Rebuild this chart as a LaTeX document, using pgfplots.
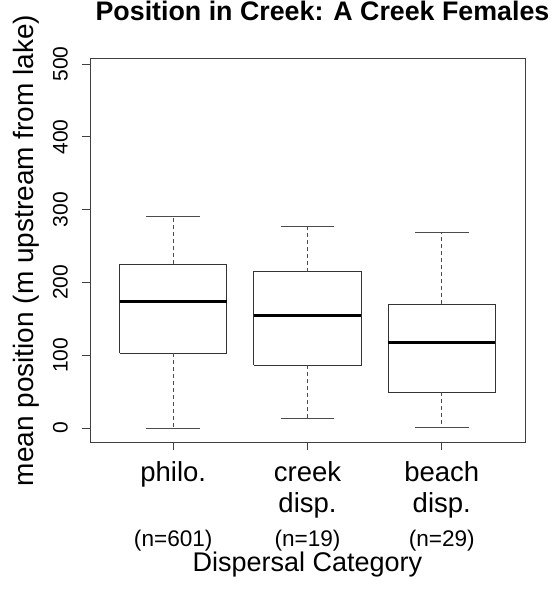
\documentclass[border=0pt]{standalone}
\usepackage{pgfplots}
\pgfplotsset{compat=1.18}
\usepackage{fontspec}
\setmainfont{Liberation Sans}

\begin{document}
\begin{tikzpicture}
\useasboundingbox (0pt,0pt) rectangle (552pt,-601pt);
\begin{axis}[
  at={(90pt,-442pt)}, anchor=south west,
  scale only axis, width=435pt, height=383pt,
  xmin=0.38, xmax=3.62,
  ymin=-19.2, ymax=507,
  unbounded coords=jump,
  axis line style={black!75, line width=1pt},
  tick style={black!75, line width=1pt},
  tick align=outside, major tick length=8pt,
  xtick pos=lower, ytick pos=left,
  /pgf/number format/assume math mode=true,
  ytick={0,100,200,300,400,500},
  yticklabel style={rotate=90, anchor=south, inner sep=0pt, yshift=14pt,
    font=\fontsize{21}{21}\selectfont},
  xtick={1,2,3},
  xticklabels={philo., creek\\disp., beach\\disp.},
  xticklabel style={anchor=north, inner sep=0pt, align=center, yshift=-11pt,
    font=\fontsize{27.5}{31}\selectfont},
  extra x ticks={1,2,3},
  extra x tick labels={(n=601),(n=19),(n=29)},
  extra x tick style={major tick style={draw=none},
    xticklabel style={yshift=-69pt, font=\fontsize{22.6}{22.6}\selectfont}},
  title={Position in Creek: A Creek Females},
  title style={font=\bfseries\fontsize{26.8}{26.8}\selectfont,
    at={(axis description cs:0.5345,1)}, anchor=base, yshift=32pt},
  xlabel={Dispersal Category},
  xlabel style={font=\fontsize{27}{27}\selectfont,
    at={(axis description cs:0.5,-0.3394)}, anchor=base},
  ylabel={mean position (m upstream from lake)},
  ylabel style={font=\fontsize{28}{28}\selectfont,
    at={(axis description cs:-0.131,0.5)}, anchor=base},
]

% boxes: lower quartile to upper quartile, width 0.8
\addplot[black!80, line width=1pt] coordinates {
  (0.6,103) (1.4,103) (1.4,225) (0.6,225) (0.6,103)};
\addplot[black!80, line width=1pt] coordinates {
  (1.6,86.5) (2.4,86.5) (2.4,215) (1.6,215) (1.6,86.5)};
\addplot[black!80, line width=1pt] coordinates {
  (2.6,49) (3.4,49) (3.4,170) (2.6,170) (2.6,49)};

% medians
\addplot[black, line width=3pt] coordinates {
  (0.6,174.5) (1.4,174.5) (nan,nan)
  (1.6,155) (2.4,155) (nan,nan)
  (2.6,117) (3.4,117)};

% whiskers (dashed)
\addplot[black!70, line width=1pt, dash pattern=on 4pt off 3pt] coordinates {
  (1,225) (1,290) (nan,nan) (1,103) (1,0) (nan,nan)
  (2,215) (2,276.5) (nan,nan) (2,86.5) (2,13) (nan,nan)
  (3,170) (3,268) (nan,nan) (3,49) (3,0.5)};

% whisker caps
\addplot[black!70, line width=1pt] coordinates {
  (0.8,290) (1.2,290) (nan,nan) (0.8,0) (1.2,0) (nan,nan)
  (1.8,276.5) (2.2,276.5) (nan,nan) (1.8,13) (2.2,13) (nan,nan)
  (2.8,268) (3.2,268) (nan,nan) (2.8,0.5) (3.2,0.5)};

\end{axis}
\end{tikzpicture}
\end{document}
